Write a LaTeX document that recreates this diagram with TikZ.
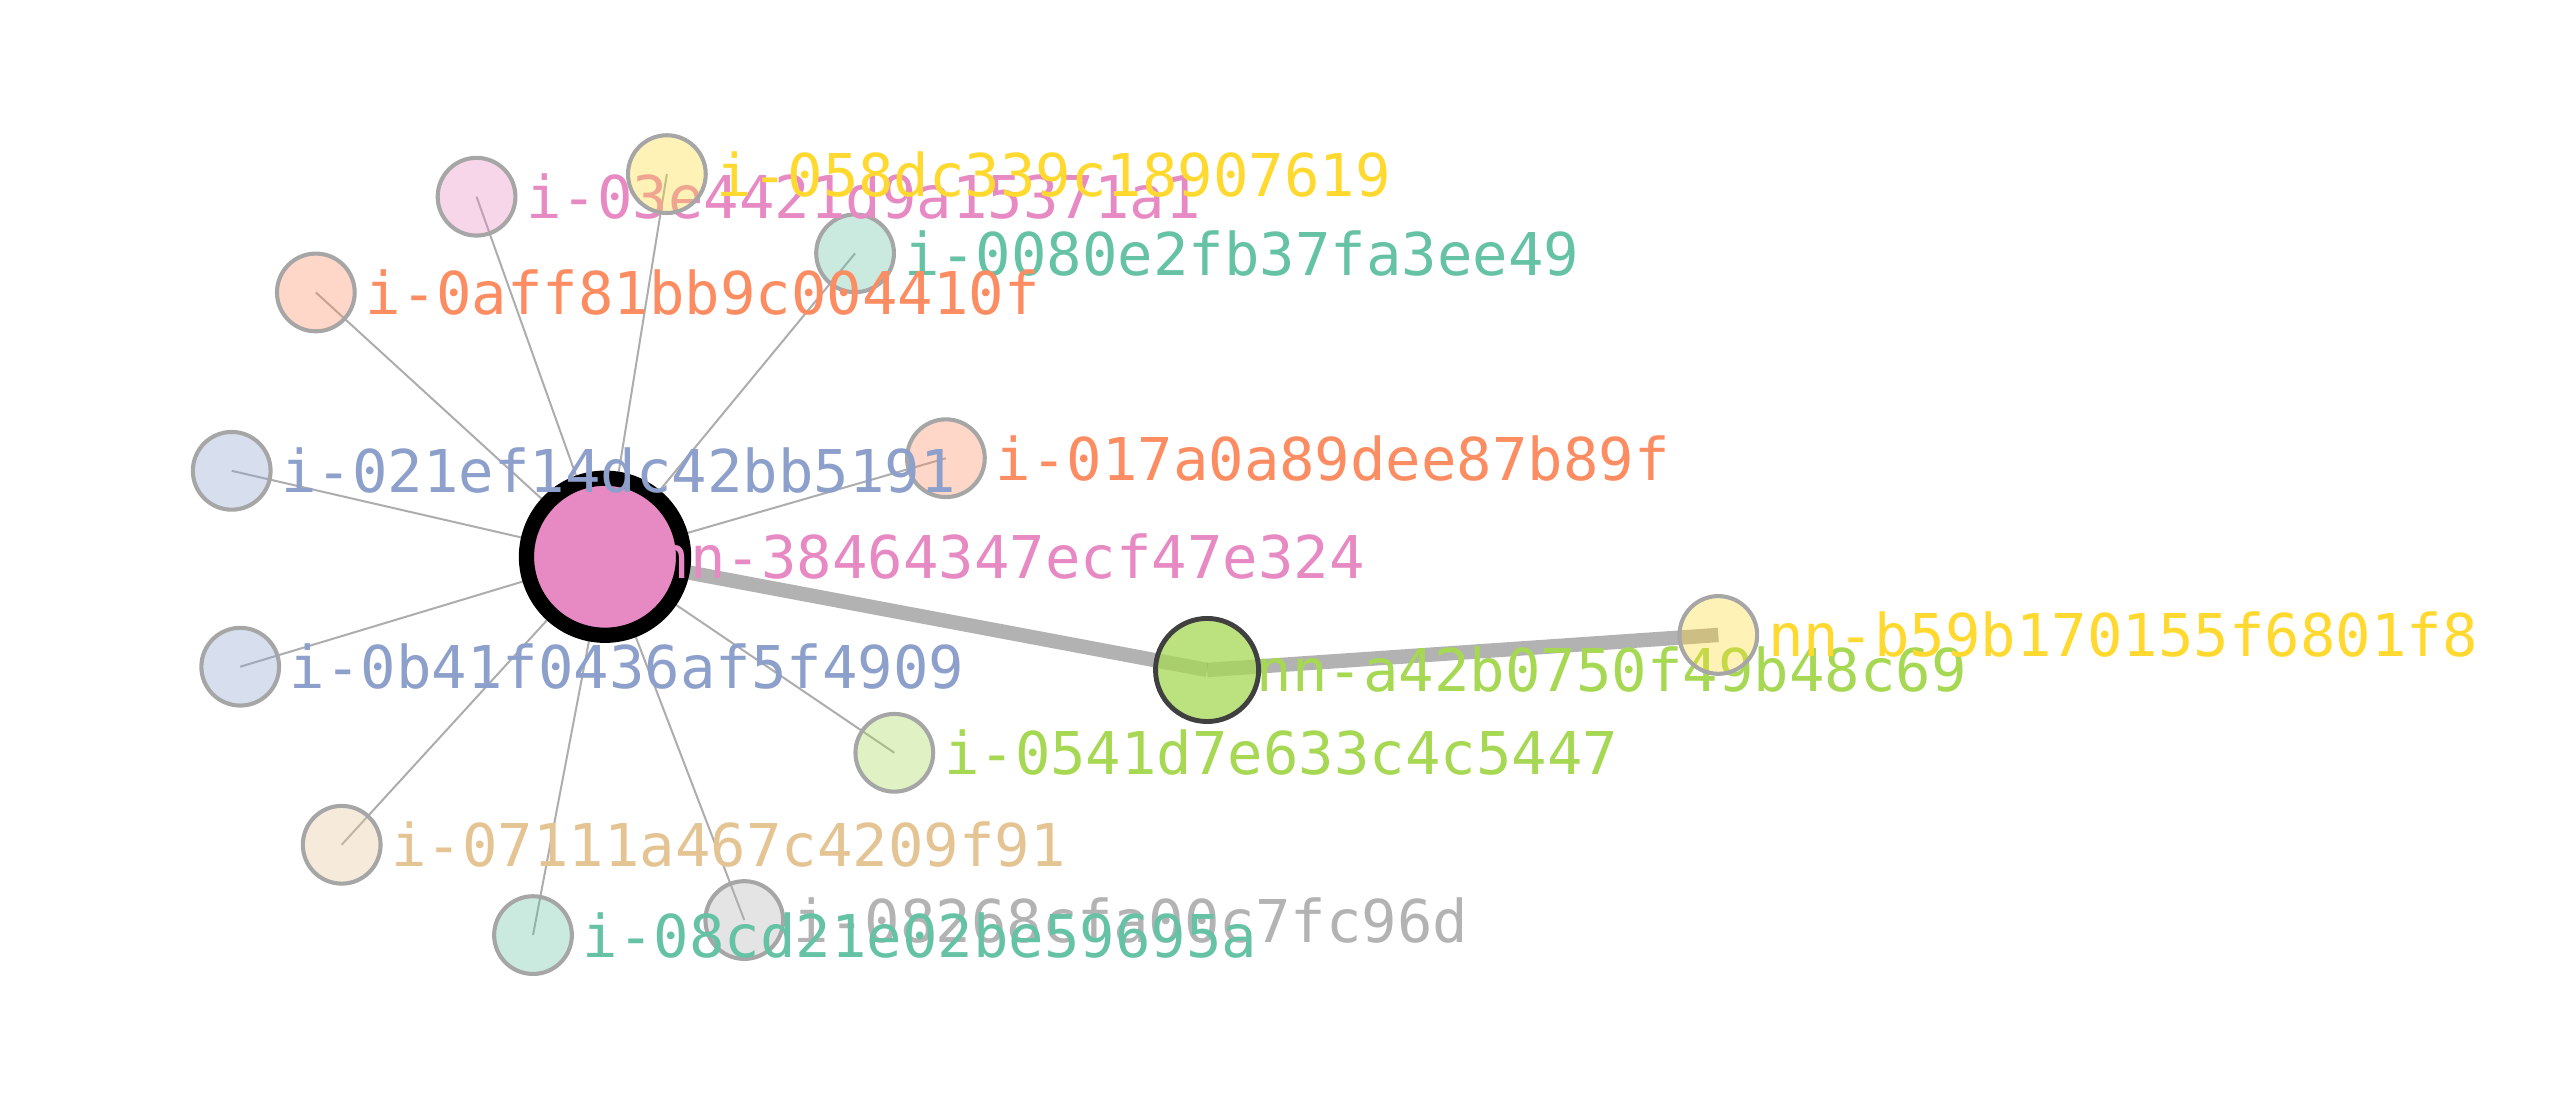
\documentclass[tikz,border=0pt]{standalone}
\usepackage{fontspec}
\setmonofont{DejaVu Sans Mono}
\usepackage{tikz}
\usetikzlibrary{positioning}
\pgfdeclarelayer{edgelayer}
\pgfdeclarelayer{nodelayer}
\pgfsetlayers{edgelayer,nodelayer,main}
\definecolor{sTeal}{HTML}{66C2A5}
\definecolor{sOrange}{HTML}{FC8D62}
\definecolor{sBlue}{HTML}{8DA0CB}
\definecolor{sPink}{HTML}{E78AC3}
\definecolor{sGreen}{HTML}{A6D854}
\definecolor{sYellow}{HTML}{FFD92F}
\definecolor{sTan}{HTML}{E5C494}
\definecolor{sGray}{HTML}{B3B3B3}
\definecolor{ringgray}{HTML}{A6A6A6}
\definecolor{ringdark}{HTML}{404040}
\tikzstyle{edge}=[draw=black, draw opacity=0.32, line width=0.7pt]
\tikzstyle{trunk}=[draw=black, draw opacity=0.3, line width=5pt]
\tikzstyle{inst}=[circle, draw=ringgray, line width=1.42pt, fill opacity=0.35, minimum size=0.95cm, inner sep=0pt]
\tikzstyle{hubnode}=[circle, draw=black, fill=sPink, line width=5.3pt, minimum size=1.92cm, inner sep=0pt]
\tikzstyle{peer}=[circle, draw=ringdark, fill=sGreen, fill opacity=0.75, line width=1.7pt, minimum size=1.26cm, inner sep=0pt]
\tikzstyle{lbl}=[inner sep=0pt, font=\ttfamily\fontsize{20.5}{24}\selectfont]

\begin{document}
\begin{tikzpicture}[x=2cm, y=-2cm]
\useasboundingbox (0,0) rectangle (15.68,6.77);
\node[hubnode] (h) at ( 3.697 , 3.402 ){};
\node[lbl, text=sPink, right=0.6cm of h.center] (lh) {nn-38464347ecf47e324};
\node[inst, fill=sTeal] (i0080) at ( 5.225 , 1.548 ){};
\node[lbl, text=sTeal, right=0.6cm of i0080.center] (l0080) {i-0080e2fb37fa3ee49};
\node[inst, fill=sOrange] (i017a) at ( 5.78 , 2.80 ){};
\node[lbl, text=sOrange, right=0.6cm of i017a.center] (l017a) {i-017a0a89dee87b89f};
\node[inst, fill=sBlue] (i021e) at ( 1.416 , 2.877 ){};
\node[lbl, text=sBlue, right=0.6cm of i021e.center] (l021e) {i-021ef14dc42bb5191};
\node[inst, fill=sOrange] (i0aff) at ( 1.93 , 1.787 ){};
\node[lbl, text=sOrange, right=0.6cm of i0aff.center] (l0aff) {i-0aff81bb9c004410f};
\node[inst, fill=sPink] (i03e4) at ( 2.912 , 1.202 ){};
\node[lbl, text=sPink, right=0.6cm of i03e4.center] (l03e4) {i-03e4421d9a15371a1};
\node[inst, fill=sYellow] (i058d) at ( 4.075 , 1.064 ){};
\node[lbl, text=sYellow, right=0.6cm of i058d.center] (l058d) {i-058dc339c18907619};
\node[inst, fill=sBlue] (i0b41) at ( 1.468 , 4.074 ){};
\node[lbl, text=sBlue, right=0.6cm of i0b41.center] (l0b41) {i-0b41f0436af5f4909};
\node[inst, fill=sGreen] (i0541) at ( 5.465 , 4.60 ){};
\node[lbl, text=sGreen, right=0.6cm of i0541.center] (l0541) {i-0541d7e633c4c5447};
\node[inst, fill=sTan] (i0711) at ( 2.088 , 5.162 ){};
\node[lbl, text=sTan, right=0.6cm of i0711.center] (l0711) {i-07111a467c4209f91};
\node[inst, fill=sGray] (i0826) at ( 4.548 , 5.622 ){};
\node[lbl, text=sGray, right=0.6cm of i0826.center] (l0826) {i-08268cfa00c7fc96d};
\node[inst, fill=sTeal] (i08cd) at ( 3.257 , 5.714 ){};
\node[lbl, text=sTeal, right=0.6cm of i08cd.center] (l08cd) {i-08cd21e02be59695a};
\node[peer] (nna42) at ( 7.376 , 4.094 ){};
\node[lbl, text=sGreen, right=0.6cm of nna42.center] (lna42) {nn-a42b0750f49b48c69};
\node[inst, fill=sYellow] (nnb59) at ( 10.50 , 3.88 ){};
\node[lbl, text=sYellow, right=0.6cm of nnb59.center] (lnb59) {nn-b59b170155f6801f8};
\begin{pgfonlayer}{edgelayer}
\draw[edge] (h.center)--(i0080.center);
\draw[edge] (h.center)--(i017a.center);
\draw[edge] (h.center)--(i021e.center);
\draw[edge] (h.center)--(i0aff.center);
\draw[edge] (h.center)--(i03e4.center);
\draw[edge] (h.center)--(i058d.center);
\draw[edge] (h.center)--(i0b41.center);
\draw[edge] (h.center)--(i0541.center);
\draw[edge] (h.center)--(i0711.center);
\draw[edge] (h.center)--(i0826.center);
\draw[edge] (h.center)--(i08cd.center);
\draw[trunk] (h.center)--(nna42.center);
\draw[trunk] (nna42.center)--(nnb59.center);
\end{pgfonlayer}
\end{tikzpicture}
\end{document}
